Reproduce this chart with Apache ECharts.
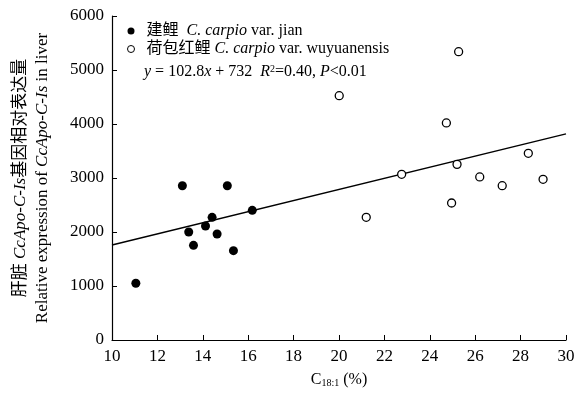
<!DOCTYPE html>
<html lang="zh">
<head>
    <meta charset="UTF-8">
    <title>C18:1 vs CcApo-C-Is</title>
    <script src="https://cdn.jsdelivr.net/npm/echarts@6/dist/echarts.min.js"></script>
</head>
<style>
    html, body {
        margin: 0;
        height: 100%;
        background: #fff;
    }
</style>
<body>
<div id="main" style="width: 584px;height:393px"></div>
<script type="text/javascript">
    // 建鲤 C. carpio var. jian
    var jianX = [11.05, 13.1, 13.38, 13.59, 14.12, 14.41, 14.63, 15.08, 15.35, 16.18];
    var jianY = [1050, 2857, 2000, 1753, 2111, 2272, 1963, 2857, 1654, 2401];
    // 荷包红鲤 C. carpio var. wuyuanensis
    var wuyX = [20.01, 21.2, 22.76, 24.73, 24.96, 25.2, 25.27, 26.2, 27.19, 28.34, 28.99];
    var wuyY = [4524, 2272, 3068, 4019, 2537, 3253, 5339, 3019, 2858, 3457, 2976];
    // 回归线 y = 102.8x + 732
    var fitSlope = 102.8;
    var fitIntercept = 732;
    var fitRange = [10, 30];

    var font = 'Liberation Serif, Noto Sans CJK SC, serif';

    function pairs(xs, ys) {
        var out = [];
        for (var i = 0; i < xs.length; i++) {
            out.push([xs[i], ys[i]]);
        }
        return out;
    }

    var fitData = fitRange.map(function (x) {
        return [x, fitSlope * x + fitIntercept];
    });

    var myChart = echarts.init(document.getElementById('main'));
    var option = {
        animation: false,
        backgroundColor: '#fff',
        textStyle: {fontFamily: font, color: '#000'},
        grid: {left: 112, right: 18, top: 16, bottom: 53},
        title: {
            text: '{i|y} = 102.8{i|x} + 732  {i|R}{sup|2}=0.40, {i|P}<0.01',
            left: 139,
            top: 59,
            textStyle: {
                fontFamily: font,
                fontSize: 16,
                fontWeight: 'normal',
                color: '#000',
                rich: {
                    i: {fontStyle: 'italic', fontFamily: font, fontSize: 16},
                    sup: {fontSize: 10, verticalAlign: 'top', fontFamily: font}
                }
            }
        },
        legend: {
            orient: 'vertical',
            left: 127,
            top: 23,
            padding: 0,
            itemGap: 2,
            itemWidth: 7,
            itemHeight: 7,
            data: [
                {name: 'jian', icon: 'circle', itemStyle: {color: '#000', borderWidth: 0}},
                {name: 'wuy', icon: 'circle', itemStyle: {color: '#fff', borderColor: '#000', borderWidth: 1}}
            ],
            formatter: function (name) {
                if (name === 'jian') {
                    return '建鲤  {i|C. carpio} var. jian';
                }
                return '荷包红鲤 {i|C. carpio} var. wuyuanensis';
            },
            textStyle: {
                fontFamily: font,
                fontSize: 16,
                color: '#000',
                padding: [0, 0, 0, 7],
                rich: {
                    i: {fontStyle: 'italic', fontFamily: font, fontSize: 16}
                }
            }
        },
        xAxis: {
            type: 'value',
            min: 10,
            max: 30,
            interval: 2,
            name: 'C{sub|18:1} (%)',
            nameLocation: 'middle',
            nameGap: 32,
            nameTextStyle: {
                fontFamily: font,
                fontSize: 16,
                color: '#000',
                rich: {
                    sub: {fontSize: 10, verticalAlign: 'bottom', fontFamily: font}
                }
            },
            splitLine: {show: false},
            axisLine: {lineStyle: {color: '#000', width: 1.2}},
            axisTick: {inside: true, length: 5, lineStyle: {color: '#000'}},
            axisLabel: {fontFamily: font, fontSize: 17, color: '#000', margin: 8}
        },
        yAxis: {
            type: 'value',
            min: 0,
            max: 6000,
            interval: 1000,
            name: '肝脏 {i|CcApo-C-Is}基因相对表达量\nRelative expression of {i|CcApo-C-Is} in liver',
            nameLocation: 'middle',
            nameRotate: 90,
            nameGap: 58,
            nameTextStyle: {
                fontFamily: font,
                fontSize: 17,
                color: '#000',
                lineHeight: 22,
                rich: {
                    i: {fontStyle: 'italic', fontFamily: font, fontSize: 17, lineHeight: 22}
                }
            },
            splitLine: {show: false},
            axisLine: {show: true, lineStyle: {color: '#000', width: 1.2}},
            axisTick: {show: true, inside: true, length: 5, lineStyle: {color: '#000'}},
            axisLabel: {
                fontFamily: font,
                fontSize: 17,
                color: '#000',
                margin: 8,
                formatter: function (v) {
                    return String(v);
                }
            }
        },
        series: [
            {
                name: 'jian',
                type: 'scatter',
                symbol: 'circle',
                symbolSize: 9,
                itemStyle: {color: '#000', opacity: 1},
                data: pairs(jianX, jianY),
                z: 3
            },
            {
                name: 'wuy',
                type: 'scatter',
                symbol: 'circle',
                symbolSize: 8,
                itemStyle: {color: '#fff', borderColor: '#000', borderWidth: 1.3, opacity: 1},
                data: pairs(wuyX, wuyY),
                z: 3
            },
            {
                name: 'fit',
                type: 'line',
                showSymbol: false,
                silent: true,
                lineStyle: {color: '#000', width: 1.4},
                data: fitData,
                z: 2
            }
        ]
    };
    myChart.setOption(option);
</script>
</body>
</html>
